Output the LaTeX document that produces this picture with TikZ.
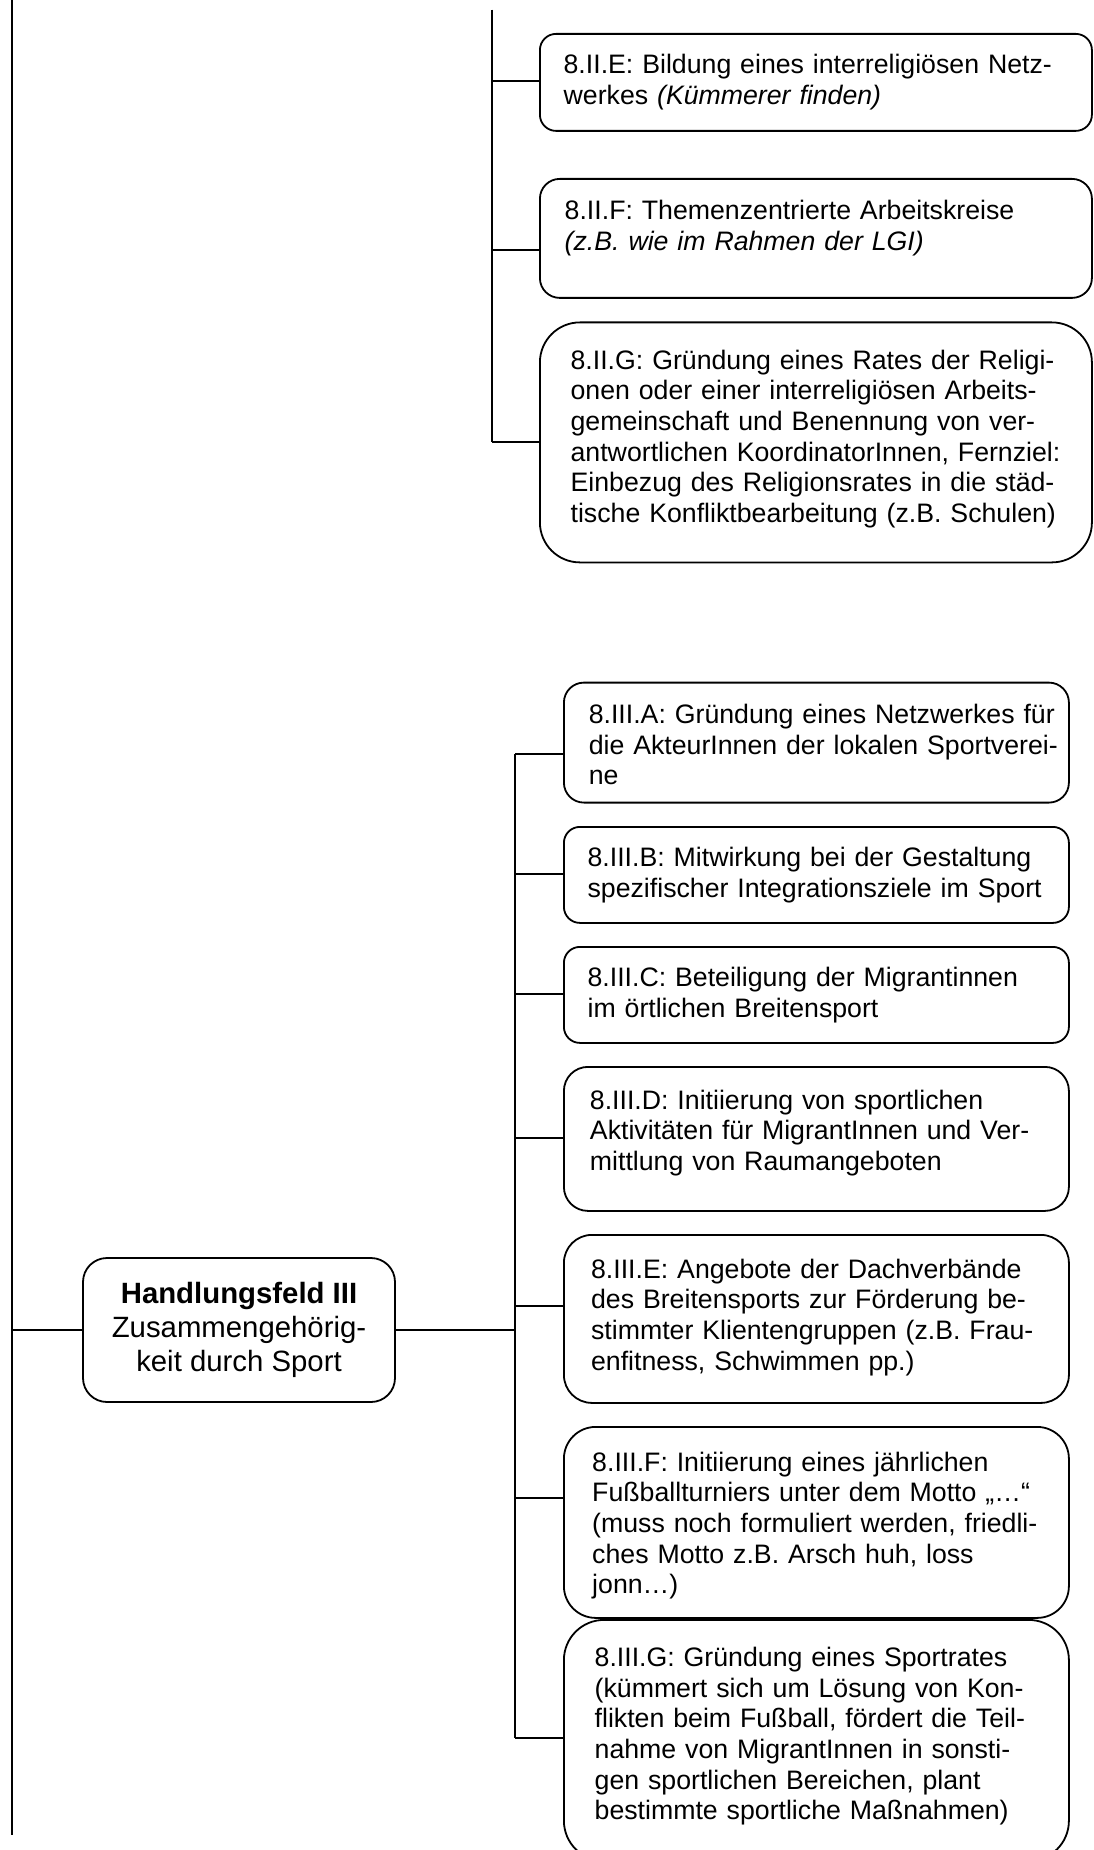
\documentclass[tikz,border=0pt]{standalone}
\usepackage{fontspec}
\setmainfont{Liberation Sans}
\newcommand{\bfnt}{\fontsize{13.35pt}{15.3pt}\selectfont}
\newcommand{\hfnt}{\fontsize{14.67pt}{16.9pt}\selectfont}
\tikzset{
  boxshape/.style={draw, line width=0.9pt, fill=white, inner sep=0pt, anchor=north west},
  boxtext/.style={inner sep=0pt, anchor=base west, align=left, text width=270pt, font=\bfnt},
  conn/.style={line width=0.9pt},
}
\newcommand{\mybox}[6]{%
  \pgfmathsetmacro{\rr}{#5/6}%
  \node[boxshape, minimum width=#4*0.5pt, minimum height=#5*0.5pt, rounded corners=\rr*0.5pt] (#1) at (#2,#3) {};
  \node[boxtext] (#1t) at ({#2+0.293*\rr+19.5},{#3+0.293*\rr+36}) {#6};
}
\begin{document}
\begin{tikzpicture}[x=0.5pt,y=-0.5pt]
\useasboundingbox (0,0) rectangle (1093,1850);
\begin{scope}
\clip (0,0) rectangle (1093,1850);

% group II boxes
\mybox{iiE}{539}{33}{552}{97}{8.II.E: Bildung eines interreligiösen Netz-\\werkes \textit{(Kümmerer finden)}}
\mybox{iiF}{539}{178}{552}{119}{8.II.F: Themenzentrierte Arbeitskreise\\\textit{(z.B. wie im Rahmen der LGI)}}
\mybox{iiG}{539}{321.5}{552}{240}{8.II.G: Gründung eines Rates der Religi-\\onen oder einer interreligiösen Arbeits-\\gemeinschaft und Benennung von ver-\\antwortlichen KoordinatorInnen, Fernziel:\\Einbezug des Religionsrates in die städ-\\tische Konfliktbearbeitung (z.B. Schulen)}

% group III boxes
\mybox{iiiA}{563}{681.7}{505}{120}{8.III.A: Gründung eines Netzwerkes für\\die AkteurInnen der lokalen Sportverei-\\ne}
\mybox{iiiB}{563}{826}{505}{96}{8.III.B: Mitwirkung bei der Gestaltung\\spezifischer Integrationsziele im Sport}
\mybox{iiiC}{563}{946}{505}{96}{8.III.C: Beteiligung der Migrantinnen\\im örtlichen Breitensport}
\mybox{iiiD}{563}{1066}{505}{144}{8.III.D: Initiierung von sportlichen\\Aktivitäten für MigrantInnen und Ver-\\mittlung von Raumangeboten}
\mybox{iiiE}{563}{1234}{505}{168}{8.III.E: Angebote der Dachverbände\\des Breitensports zur Förderung be-\\stimmter Klientengruppen (z.B. Frau-\\enfitness, Schwimmen pp.)}
\mybox{iiiF}{563}{1426}{505}{191}{8.III.F: Initiierung eines jährlichen\\Fußballturniers unter dem Motto „…“\\(muss noch formuliert werden, friedli-\\ches Motto z.B. Arsch huh, loss\\jonn…)}
\mybox{iiiG}{563}{1619}{505}{241}{8.III.G: Gründung eines Sportrates\\(kümmert sich um Lösung von Kon-\\flikten beim Fußball, fördert die Teil-\\nahme von MigrantInnen in sonsti-\\gen sportlichen Bereichen, plant\\bestimmte sportliche Maßnahmen)}

% Handlungsfeld III
\node[boxshape, anchor=center, minimum width=156pt, minimum height=72pt, rounded corners=12pt, align=center, font=\hfnt] (H) at (239,1330) {\textbf{Handlungsfeld III}\\Zusammengehörig-\\keit durch Sport};

% left trunk
\coordinate (La) at (12,0);
\coordinate (Lb) at (12,1835);
\draw[conn] (La) -- (Lb);
\draw[conn] (H.west -| La) -- (H.west);

% trunk II
\coordinate (t2a) at (491.7,9.6);
\coordinate (t2b) at (491.7,442);
\draw[conn] (t2a) -- (t2b);
\coordinate (bE) at (491.7,81);
\coordinate (bF) at (491.7,250);
\draw[conn] (bE) -- (bE -| iiE.west);
\draw[conn] (bF) -- (bF -| iiF.west);
\draw[conn] (t2b) -- (t2b -| iiG.west);

% trunk III
\coordinate (t3a) at (515,754);
\coordinate (t3b) at (515,1738);
\draw[conn] (t3a) -- (t3b);
\draw[conn] (H.east) -- (H.east -| t3a);
\coordinate (cB) at (515,873.6);
\coordinate (cC) at (515,994);
\coordinate (cD) at (515,1138);
\coordinate (cE) at (515,1305.7);
\coordinate (cF) at (515,1497.7);
\draw[conn] (t3a) -- (t3a -| iiiA.west);
\draw[conn] (cB) -- (cB -| iiiB.west);
\draw[conn] (cC) -- (cC -| iiiC.west);
\draw[conn] (cD) -- (cD -| iiiD.west);
\draw[conn] (cE) -- (cE -| iiiE.west);
\draw[conn] (cF) -- (cF -| iiiF.west);
\draw[conn] (t3b) -- (t3b -| iiiG.west);
\end{scope}
\end{tikzpicture}
\end{document}
